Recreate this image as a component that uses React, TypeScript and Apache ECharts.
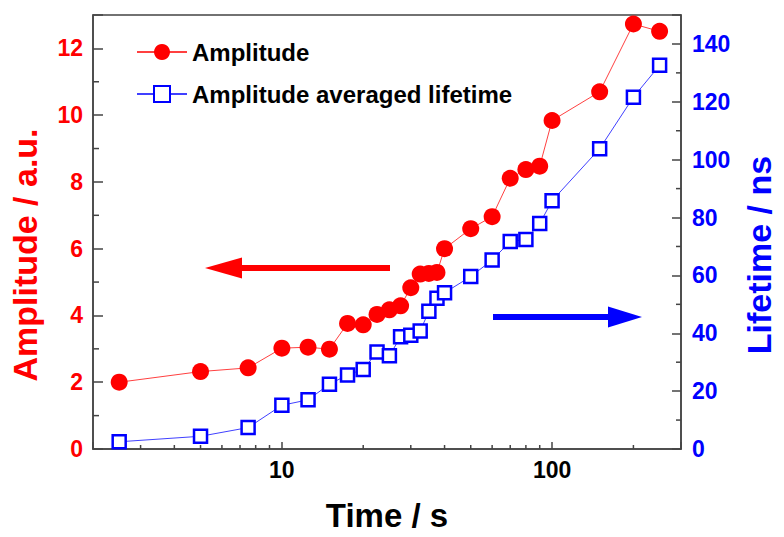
import React, { useEffect, useRef } from "react";
import * as echarts from "echarts";

const times = [2.5, 5, 7.5, 10, 12.5, 15, 17.5, 20, 22.5, 25, 27.5, 30, 32.5, 35, 37.5, 40, 50, 60, 70, 80, 90, 100, 150, 200, 250];
const amplitude = [2.0, 2.32, 2.43, 3.02, 3.05, 2.99, 3.76, 3.72, 4.03, 4.17, 4.29, 4.83, 5.24, 5.26, 5.29, 6.0, 6.6, 6.96, 8.11, 8.37, 8.47, 9.84, 10.7, 12.73, 12.51];
const lifetime = [2.5, 4.4, 7.4, 15.1, 17.0, 22.4, 25.6, 27.5, 33.5, 32.2, 38.8, 39.3, 40.8, 47.6, 52.1, 54.0, 59.6, 65.3, 71.7, 72.4, 77.9, 85.8, 103.8, 121.6, 132.6];

const xMajorLabels = [10, 100];
const xMinorTicks = [3, 4, 5, 6, 7, 8, 9, 20, 30, 40, 50, 60, 70, 80, 90, 200];
const leftMinorTicks = [1, 3, 5, 7, 9, 11];
const rightMinorTicks = [10, 30, 50, 70, 90, 110, 130];

const X_MIN = 2;
const X_MAX = 300;
const AMP_MAX = 13;
const LT_MAX = 150;

const FONT = "'Liberation Sans', Arial, sans-serif";
const AXIS = "#444";
const RED = "#ff0000";
const BLUE = "#0000ff";

export default function App() {
  const ref = useRef<HTMLDivElement>(null);

  useEffect(() => {
    if (!ref.current) return;
    const chart = echarts.init(ref.current, undefined, { renderer: "svg" });

    const tickSeries = (data: number[][], yAxisIndex: number, dir: "x" | "left" | "right", len: number) => ({
      type: "custom",
      xAxisIndex: 0,
      yAxisIndex,
      silent: true,
      z: 5,
      data,
      renderItem: (_p: any, api: any) => {
        const pt = api.coord([api.value(0), api.value(1)]);
        let shape;
        if (dir === "x") shape = { x1: pt[0], y1: pt[1], x2: pt[0], y2: pt[1] - len };
        else if (dir === "left") shape = { x1: pt[0], y1: pt[1], x2: pt[0] + len, y2: pt[1] };
        else shape = { x1: pt[0], y1: pt[1], x2: pt[0] - len, y2: pt[1] };
        return { type: "line", shape, style: { stroke: AXIS, lineWidth: 1.5 } };
      },
    });

    chart.setOption({
      animation: false,
      grid: {
        left: 90,
        right: 92,
        top: 15,
        bottom: 79,
        show: true,
        borderColor: AXIS,
        borderWidth: 1.5,
        backgroundColor: "transparent",
      },
      legend: {
        data: ["Amplitude", "Amplitude averaged lifetime"],
        orient: "vertical",
        left: 131,
        top: 35,
        itemWidth: 50,
        itemHeight: 20,
        itemGap: 18,
        selectedMode: false,
        textStyle: { fontFamily: FONT, fontWeight: "bold", fontSize: 24, color: "#000" },
      },
      xAxis: {
        type: "log",
        logBase: 10,
        min: X_MIN,
        max: X_MAX,
        name: "Time / s",
        nameLocation: "middle",
        nameGap: 50,
        nameTextStyle: { fontFamily: FONT, fontWeight: "bold", fontSize: 33, color: "#000" },
        axisLine: { lineStyle: { color: AXIS, width: 1.5 } },
        axisTick: { inside: true, length: 7, lineStyle: { color: AXIS, width: 1.5 } },
        axisLabel: {
          margin: 9,
          fontFamily: FONT,
          fontWeight: "bold",
          fontSize: 23,
          color: "#000",
          formatter: (v: number) => (xMajorLabels.includes(Math.round(v)) ? String(Math.round(v)) : ""),
        },
        splitLine: { show: false },
      },
      yAxis: [
        {
          type: "value",
          min: 0,
          max: AMP_MAX,
          interval: 2,
          position: "left",
          name: "Amplitude / a.u.",
          nameLocation: "middle",
          nameGap: 51,
          nameTextStyle: { fontFamily: FONT, fontWeight: "bold", fontSize: 34, color: RED, padding: [0, 46, 0, 0] },
          axisLine: { show: true, lineStyle: { color: AXIS, width: 1.5 } },
          axisTick: { show: true, inside: true, length: 10, lineStyle: { color: AXIS, width: 1.5 } },
          axisLabel: {
            margin: 10,
            fontFamily: FONT,
            fontWeight: "bold",
            fontSize: 23,
            color: RED,
            formatter: (v: number) => (v % 2 === 0 && v <= 12 ? String(v) : ""),
          },
          splitLine: { show: false },
        },
        {
          type: "value",
          min: 0,
          max: LT_MAX,
          interval: 20,
          position: "right",
          name: "Lifetime / ns",
          nameLocation: "middle",
          nameGap: 61,
          nameTextStyle: { fontFamily: FONT, fontWeight: "bold", fontSize: 34, color: BLUE, padding: [0, 46, 0, 0] },
          axisLine: { show: true, lineStyle: { color: AXIS, width: 1.5 } },
          axisTick: { show: true, inside: true, length: 9, lineStyle: { color: AXIS, width: 1.5 } },
          axisLabel: {
            margin: 11,
            fontFamily: FONT,
            fontWeight: "bold",
            fontSize: 23,
            color: BLUE,
            formatter: (v: number) => (v % 20 === 0 && v <= 140 ? String(v) : ""),
          },
          splitLine: { show: false },
        },
      ],
      series: [
        {
          name: "Amplitude",
          type: "line",
          yAxisIndex: 0,
          data: times.map((t, i) => [t, amplitude[i]]),
          symbol: "circle",
          symbolSize: 17,
          itemStyle: { color: RED },
          lineStyle: { color: "#ff4040", width: 1 },
          z: 3,
        },
        {
          name: "Amplitude averaged lifetime",
          type: "line",
          yAxisIndex: 1,
          data: times.map((t, i) => [t, lifetime[i]]),
          symbol: "rect",
          symbolSize: 13,
          itemStyle: { color: "#ffffff", borderColor: BLUE, borderWidth: 2.5 },
          lineStyle: { color: "#4040ff", width: 1 },
          z: 4,
        },
        tickSeries(xMinorTicks.map((v) => [v, 0]), 0, "x", 4),
        tickSeries(leftMinorTicks.map((v) => [X_MIN, v]), 0, "left", 6),
        tickSeries(rightMinorTicks.map((v) => [X_MAX, v]), 1, "right", 5),
      ],
      graphic: [
        { type: "line", shape: { x1: 236, y1: 268, x2: 390, y2: 268 }, style: { stroke: RED, lineWidth: 6 } },
        { type: "polygon", shape: { points: [[205, 268], [242, 257.5], [242, 278.5]] }, style: { fill: RED } },
        { type: "line", shape: { x1: 493, y1: 317, x2: 612, y2: 317 }, style: { stroke: BLUE, lineWidth: 6 } },
        { type: "polygon", shape: { points: [[642, 317], [608, 306.5], [608, 327.5]] }, style: { fill: BLUE } },
      ],
    });

    return () => chart.dispose();
  }, []);

  return <div ref={ref} style={{ position: "absolute", left: 0, top: 0, width: 784, height: 537 }} />;
}
